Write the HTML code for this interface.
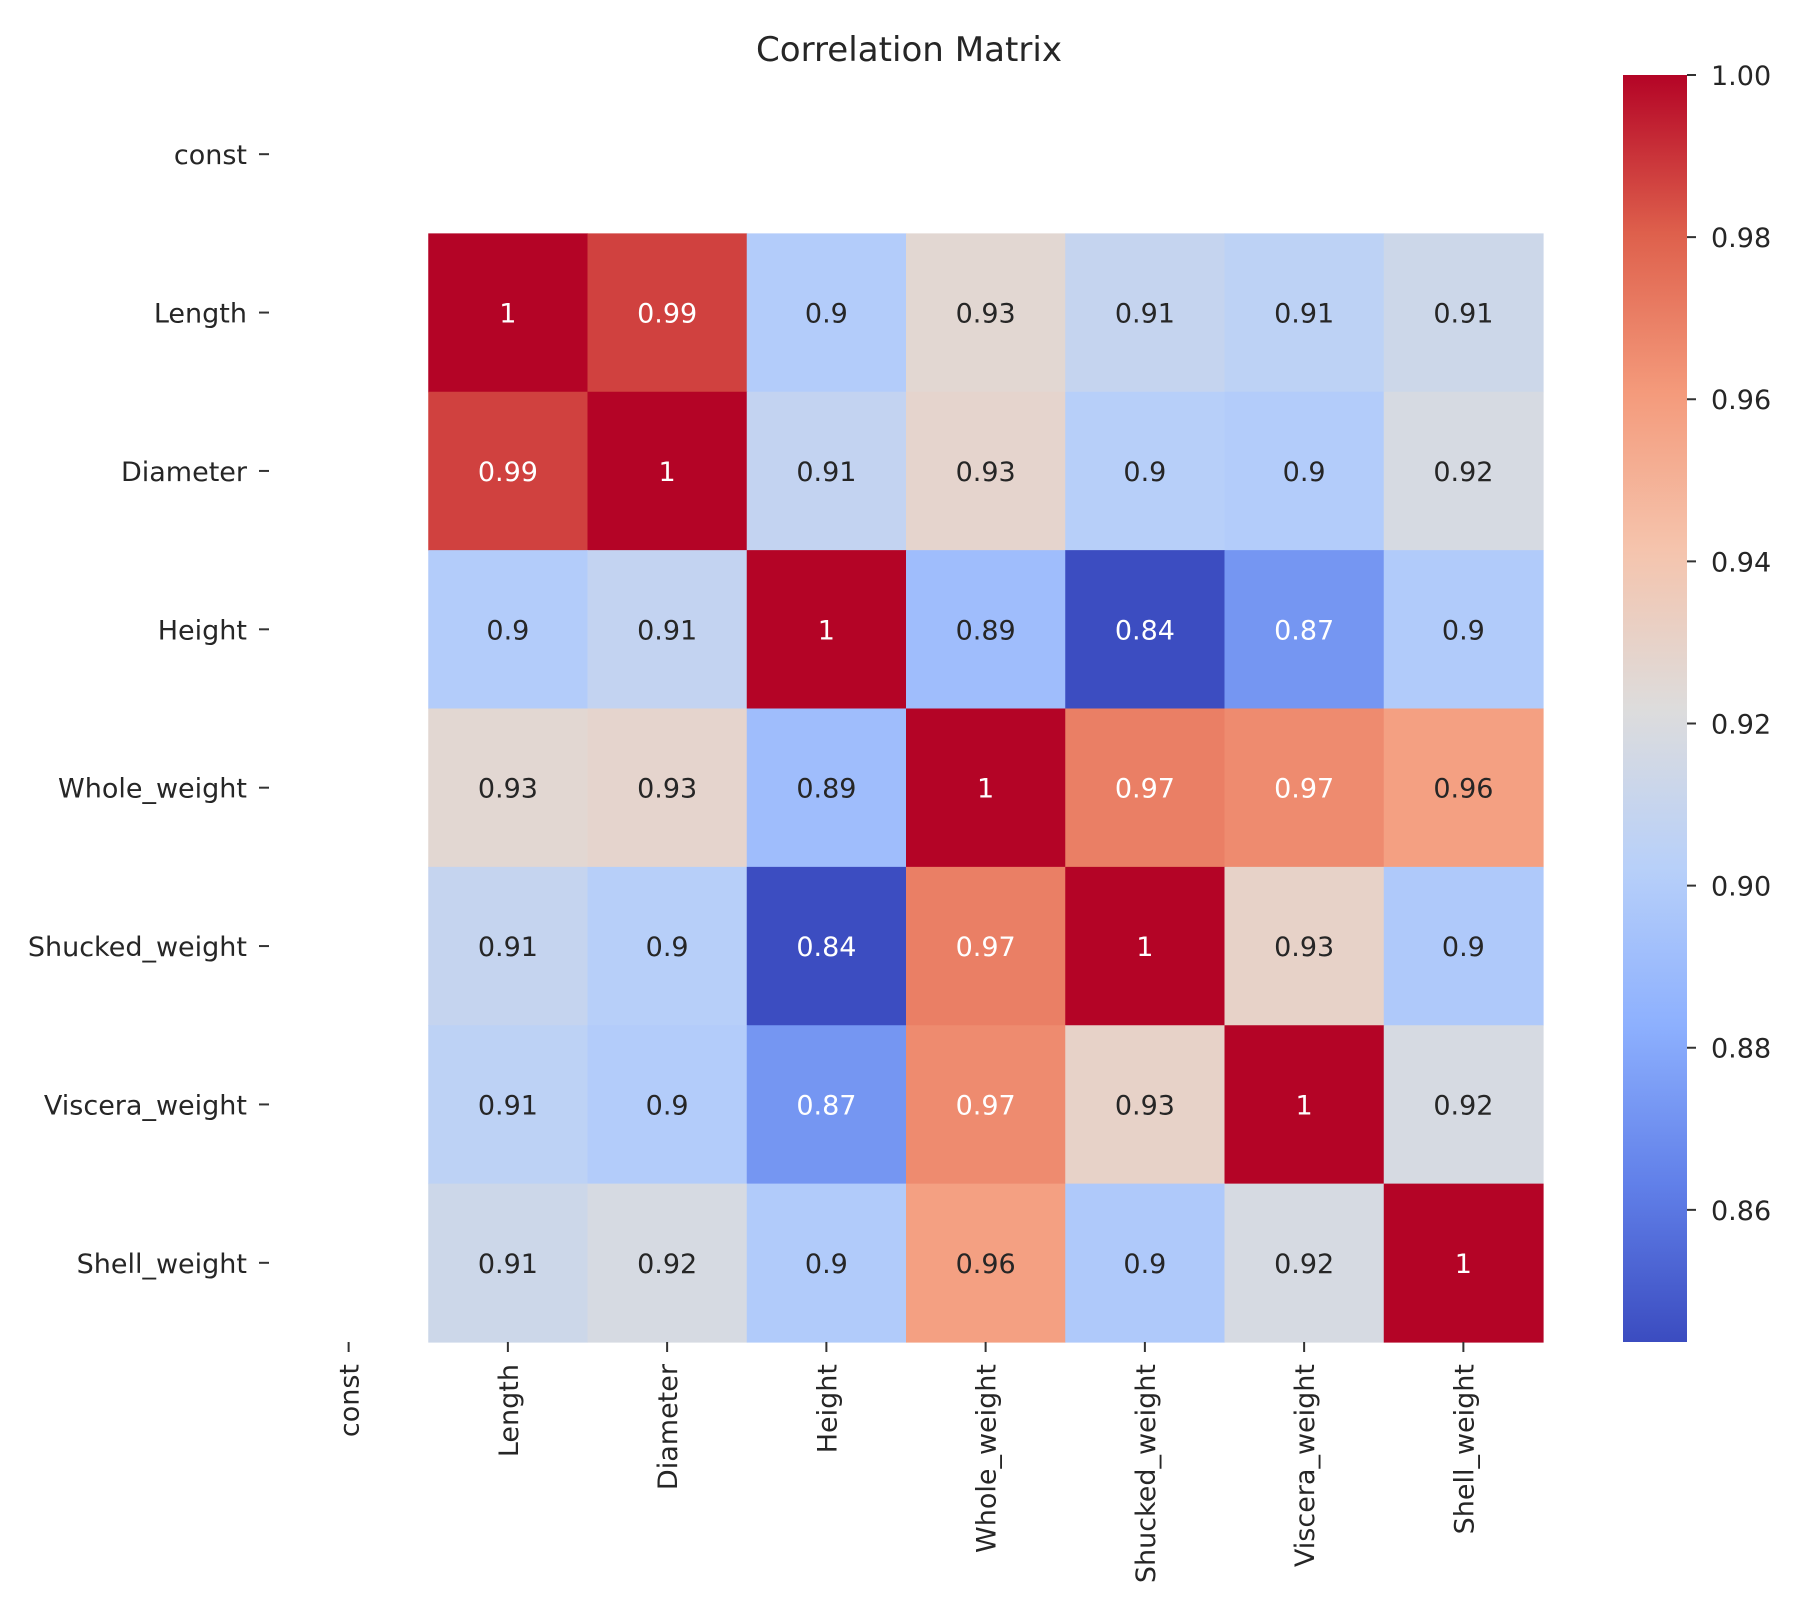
<!DOCTYPE html>
<html><head><meta charset="utf-8"><style>
html,body{margin:0;padding:0;background:#fff;}
svg{display:block;font-family:"DejaVu Sans","Liberation Sans",sans-serif;}
</style></head><body>
<svg id="chart" width="1807" height="1624" viewBox="0 0 1807 1624" xmlns="http://www.w3.org/2000/svg">
<text x="909" y="61" text-anchor="middle" font-size="34" fill="#262626" textLength="306" lengthAdjust="spacingAndGlyphs">Correlation Matrix</text>
<g id="cells"></g><g id="annots"></g><g id="yticks"></g><g id="xticks"></g><g id="cbar"></g>
</svg>
<script>
const labels = ["const","Length","Diameter","Height","Whole_weight","Shucked_weight","Viscera_weight","Shell_weight"];
const rowLength   = [1.000,0.987,0.900,0.926,0.909,0.905,0.913];
const rowDiameter = [0.987,1.000,0.908,0.928,0.902,0.900,0.918];
const rowHeight   = [0.900,0.908,1.000,0.891,0.844,0.872,0.899];
const rowWhole    = [0.926,0.928,0.891,1.000,0.970,0.966,0.958];
const rowShucked  = [0.909,0.902,0.844,0.970,1.000,0.930,0.898];
const rowViscera  = [0.905,0.900,0.872,0.966,0.930,1.000,0.918];
const rowShell    = [0.913,0.918,0.899,0.958,0.898,0.918,1.000];
const cbarTicks = [0.86,0.88,0.90,0.92,0.94,0.96,0.98,1.00];
const vmin = 0.8437, vmax = 1.0;

const NS="http://www.w3.org/2000/svg";
const rows=[null,rowLength,rowDiameter,rowHeight,rowWhole,rowShucked,rowViscera,rowShell];
const X0=269,X1=1543,Y0=75,Y1=1342,n=labels.length;
const cw=(X1-X0)/n, ch=(Y1-Y0)/n;
const xPos=i=>X0+i*cw, yPos=i=>Y0+i*ch;
const anchors=[[59,76,192],[97,128,233],[141,176,254],[184,208,249],[221,220,220],[245,196,173],[244,154,123],[222,96,76],[180,4,38]];
function cmap(v){let t=(v-vmin)/(vmax-vmin);t=Math.max(0,Math.min(1,t));const p=t*8,i=Math.min(7,Math.floor(p)),f=p-i;
 return anchors[i].map((c,k)=>Math.round(c+(anchors[i+1][k]-c)*f));}
function lum(c){const l=c.map(x=>{x/=255;return x<=0.03928?x/12.92:Math.pow((x+0.055)/1.055,2.4);});return 0.2126*l[0]+0.7152*l[1]+0.0722*l[2];}
function mk(tag,attrs,parent){const e=document.createElementNS(NS,tag);for(const k in attrs)e.setAttribute(k,attrs[k]);parent.appendChild(e);return e;}
const gC=document.getElementById('cells'),gA=document.getElementById('annots'),gY=document.getElementById('yticks'),gX=document.getElementById('xticks'),gB=document.getElementById('cbar');
for(let r=1;r<n;r++){for(let c=1;c<n;c++){const v=rows[r][c-1];const col=cmap(v);
 const rect=mk('rect',{x:xPos(c),y:yPos(r),width:cw+0.6,height:ch+0.6,fill:`rgb(${col})`},gC);
 
 
 const t=mk('text',{x:xPos(c)+cw/2,y:yPos(r)+ch/2+10,'text-anchor':'middle','font-size':27,fill:lum(col)>0.408?'#262626':'#ffffff'},gA);
 t.textContent=String(Number(v.toPrecision(2)));
 
 }}
for(let i=0;i<n;i++){const yc=yPos(i)+ch/2;
 mk('line',{x1:X0-10,x2:X0,y1:yc,y2:yc,stroke:'#333','stroke-width':2},gY);
 const t=mk('text',{x:X0-22,y:yc+10,'text-anchor':'end','font-size':27,fill:'#262626'},gY);
 t.textContent=labels[i];
 
 
 const xc=xPos(i)+cw/2;
 mk('line',{x1:xc,x2:xc,y1:Y1,y2:Y1+10,stroke:'#333','stroke-width':2},gX);
 const tx=mk('text',{x:0,y:0,'text-anchor':'end','font-size':27,fill:'#262626',transform:`translate(${xc+10},${Y1+22}) rotate(-90)`},gX);
 tx.textContent=labels[i];
 
 }
const CB0=1623,CB1=1687;const cy=v=>Y1-(v-vmin)/(vmax-vmin)*(Y1-Y0);
const defs=mk('defs',{},gB);const lg=mk('linearGradient',{id:'cg',x1:0,y1:1,x2:0,y2:0},defs);
anchors.forEach((a,i)=>mk('stop',{offset:(i/8),'stop-color':`rgb(${a})`},lg));
const cb=mk('rect',{x:CB0,y:Y0,width:CB1-CB0,height:Y1-Y0,fill:'url(#cg)'},gB);


cbarTicks.forEach(v=>{const y=cy(v);
 mk('line',{x1:CB1,x2:CB1+9,y1:y,y2:y,stroke:'#333','stroke-width':2},gB);
 const t=mk('text',{x:CB1+24,y:y+10,'font-size':27,fill:'#262626'},gB);
 t.textContent=v.toFixed(2);
 
 });
</script>
</body></html>
